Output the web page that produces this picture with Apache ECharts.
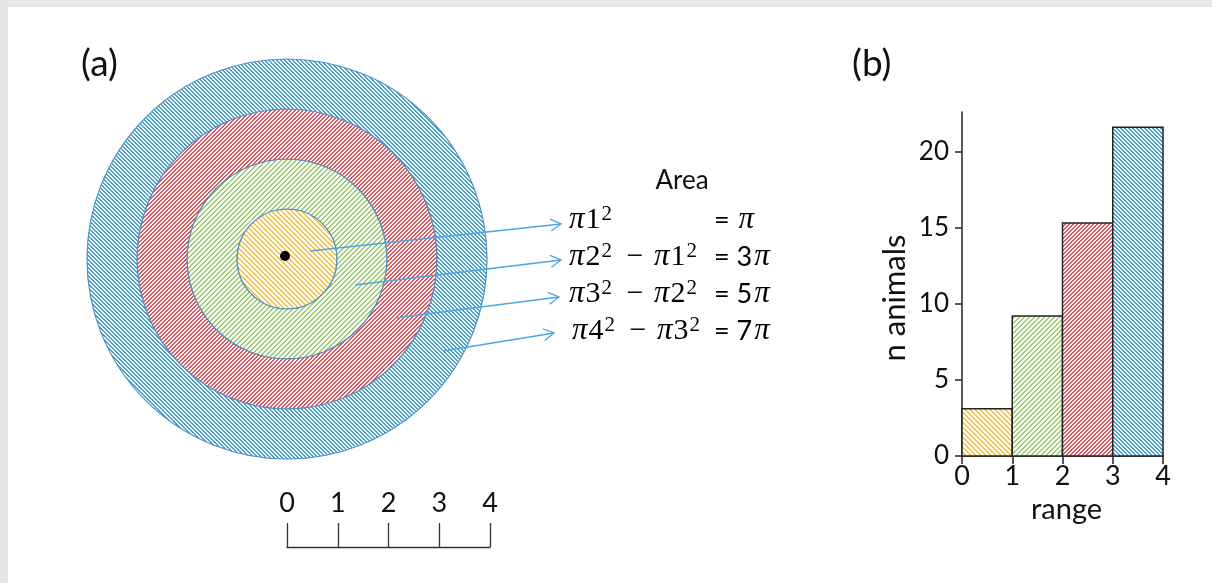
<!DOCTYPE html>
<html><head><meta charset="utf-8">
<script src="https://cdn.jsdelivr.net/npm/echarts@6/dist/echarts.min.js"></script>
<style>html,body{margin:0;padding:0;background:#fff;}#c{width:1212px;height:583px;}</style>
</head><body><div id="c"></div>
<script>
// ---------------- data ----------------
const ringNames = ['0–1', '1–2', '2–3', '3–4'];
const ringSweep = [1, 1, 1, 1];              // every ring is a full circle
const binStart = [0, 1, 2, 3];
const binEnd = [1, 2, 3, 4];
const animalCounts = [3.1, 9.2, 15.3, 21.6];
const countTicks = [0, 5, 10, 15, 20];
const rangeTicks = [0, 1, 2, 3, 4];
const scaleTicks = [0, 1, 2, 3, 4];
const formulaLeft = [
  '{p|π}{n|1}{s|2}',
  '{p|π}{n|2}{s|2}{m|−}{p|π}{n|1}{s|2}',
  '{p|π}{n|3}{s|2}{m|−}{p|π}{n|2}{s|2}',
  '{p|π}{n|4}{s|2}{m|−}{p|π}{n|3}{s|2}'
];
const formulaRight = ['{e|= }{p|π}', '{e|= 3}{p|π}', '{e|= 5}{p|π}', '{e|= 7}{p|π}'];

// ---------------- styles ----------------
const FONT = 'Lato, "Open Sans", sans-serif';
const SERIF = '"Liberation Serif", "DejaVu Serif", serif';
const ringColors = ['#f9c040', '#9ccd6e', '#ee5058', '#45a0dc'];
const ringDirs = ['back', 'fwd', 'fwd', 'back'];
const ringPeriods = [5, 5, 4, 4];

function hatch(hex, period, dir) {
  const c = document.createElement('canvas');
  c.width = period; c.height = period;
  const g = c.getContext('2d');
  const img = g.createImageData(period, period);
  const r = parseInt(hex.slice(1, 3), 16), gg = parseInt(hex.slice(3, 5), 16), b = parseInt(hex.slice(5, 7), 16);
  for (let y = 0; y < period; y++) {
    for (let x = 0; x < period; x++) {
      const k = dir === 'back' ? (((x - y) % period) + period) % period : (x + y) % period;
      const on = k < 2;
      const i = (y * period + x) * 4;
      img.data[i] = on ? r : 255;
      img.data[i + 1] = on ? gg : 255;
      img.data[i + 2] = on ? b : 255;
      img.data[i + 3] = 255;
    }
  }
  g.putImageData(img, 0, 0);
  return { image: c, repeat: 'repeat' };
}
const fills = ringColors.map((c, i) => hatch(c, ringPeriods[i], ringDirs[i]));

const CENTER = [287, 259];
const arrowStarts = [[310, 251], [355, 285], [395, 318], [443, 351]];
const arrowTips = [[561, 224], [561, 260], [559, 297], [554, 333]];
const rowY = [220, 257, 294, 331];

const chart = echarts.init(document.getElementById('c'), null, { renderer: 'canvas' });

const graphics = [
  { type: 'rect', shape: { x: 0, y: 0, width: 1212, height: 7 }, style: { fill: '#e6e7e9' }, silent: true },
  { type: 'rect', shape: { x: 0, y: 0, width: 8, height: 583 }, style: { fill: '#e6e7e9' }, silent: true },
  { type: 'text', x: 81, y: 64, style: { text: '(a)', font: '37px ' + FONT, fill: '#111', verticalAlign: 'middle' } },
  { type: 'text', x: 852, y: 64, style: { text: '(b)', font: '37px ' + FONT, fill: '#111', verticalAlign: 'middle' } },
  { type: 'text', x: 682, y: 181, style: { text: 'Area', font: '26px ' + FONT, fill: '#111', align: 'center', verticalAlign: 'middle' } },
  { type: 'circle', shape: { cx: CENTER[0] - 2, cy: CENTER[1] - 3, r: 5 }, style: { fill: '#000' }, z: 10 }
];
const rich = {
  p: { fontFamily: SERIF, fontStyle: 'italic', fontSize: 31, color: '#111', lineHeight: 32 },
  n: { fontFamily: SERIF, fontSize: 30, color: '#111', lineHeight: 32, padding: [0, 1, 0, 1] },
  s: { fontFamily: SERIF, fontSize: 21, color: '#111', verticalAlign: 'top', lineHeight: 20, padding: [0, 4, 0, 0] },
  m: { fontFamily: SERIF, fontSize: 30, color: '#111', lineHeight: 32, width: 38, align: 'center' },
  e: { fontFamily: FONT, fontSize: 27, color: '#111', lineHeight: 32, padding: [0, 2, 0, 0] }
};
formulaLeft.forEach((t, i) => {
  graphics.push({ type: 'text', x: i === 3 ? 572 : 569, y: rowY[i], style: { text: t, rich, verticalAlign: 'middle', align: 'left' }, z: 5 });
  graphics.push({ type: 'text', x: 714, y: rowY[i], style: { text: formulaRight[i], rich, verticalAlign: 'middle', align: 'left' }, z: 5 });
});
arrowStarts.forEach((s, i) => {
  const t = arrowTips[i];
  const ang = Math.atan2(t[1] - s[1], t[0] - s[0]);
  const L = 12, a = Math.PI / 6;
  const p1 = [t[0] - L * Math.cos(ang - a), t[1] - L * Math.sin(ang - a)];
  const p2 = [t[0] - L * Math.cos(ang + a), t[1] - L * Math.sin(ang + a)];
  graphics.push({ type: 'line', shape: { x1: s[0], y1: s[1], x2: t[0], y2: t[1] }, style: { stroke: '#4aa6e0', lineWidth: 1.3 }, z: 8 });
  graphics.push({ type: 'polyline', shape: { points: [p1, t, p2] }, style: { stroke: '#4aa6e0', lineWidth: 1.3, fill: null }, z: 8 });
});

const option = {
  animation: false,
  backgroundColor: '#ffffff',
  polar: { center: CENTER, radius: 200 },
  radiusAxis: { type: 'category', data: ringNames, show: false, axisLine: { show: false }, axisTick: { show: false }, axisLabel: { show: false } },
  angleAxis: { type: 'value', min: 0, max: 1, show: false, startAngle: 90 },
  grid: [
    { left: 962, top: 112, width: 201, height: 344 },
    { left: 287, top: 520, width: 203, height: 27 }
  ],
  xAxis: [
    {
      gridIndex: 0, type: 'value', min: 0, max: 4, interval: 1,
      axisLine: { show: true, onZero: false, lineStyle: { color: '#222', width: 1.5 } },
      axisTick: { show: true, length: 8, lineStyle: { color: '#222', width: 1.5 }, customValues: rangeTicks },
      axisLabel: { fontFamily: FONT, fontSize: 27, color: '#111', margin: 7, customValues: rangeTicks },
      splitLine: { show: false },
      name: 'range', nameLocation: 'middle', nameGap: 37,
      nameTextStyle: { fontFamily: FONT, fontSize: 29, color: '#111', padding: [0, 0, 0, 8] }
    },
    {
      gridIndex: 1, type: 'value', min: 0, max: 4, interval: 1,
      axisLine: { show: true, onZero: false, lineStyle: { color: '#333', width: 1.3 } },
      axisTick: { show: true, inside: true, length: 24, lineStyle: { color: '#333', width: 1.3 }, customValues: scaleTicks },
      axisLabel: { inside: true, fontFamily: FONT, fontSize: 27, color: '#111', margin: 30, customValues: scaleTicks },
      splitLine: { show: false }
    }
  ],
  yAxis: [
    {
      gridIndex: 0, type: 'value', min: 0, max: 22.6,
      axisLine: { show: true, onZero: false, lineStyle: { color: '#222', width: 1.5 } },
      axisTick: { show: true, length: 7, lineStyle: { color: '#222', width: 1.5 }, customValues: countTicks },
      axisLabel: { fontFamily: FONT, fontSize: 26, color: '#111', margin: 13, customValues: countTicks },
      splitLine: { show: false },
      name: 'n animals', nameLocation: 'middle', nameGap: 52, nameRotate: 90,
      nameTextStyle: { fontFamily: FONT, fontSize: 31, color: '#111', padding: [0, 28, 0, 0] }
    },
    { gridIndex: 1, type: 'value', show: false, min: 0, max: 1 }
  ],
  series: [
    {
      type: 'bar', coordinateSystem: 'polar', barCategoryGap: '0%', silent: true,
      data: ringSweep.map((v, i) => ({ value: v, itemStyle: { color: fills[i], borderColor: '#4f8fc0', borderWidth: 1.2 } }))
    },
    {
      type: 'custom', xAxisIndex: 0, yAxisIndex: 0, silent: true,
      data: animalCounts.map((v, i) => [binStart[i], binEnd[i], v]),
      encode: { x: [0, 1], y: 2 },
      renderItem: function (params, api) {
        const p0 = api.coord([api.value(0), 0]);
        const p1 = api.coord([api.value(1), api.value(2)]);
        return {
          type: 'rect',
          shape: { x: p0[0], y: p1[1], width: p1[0] - p0[0], height: p0[1] - p1[1] },
          style: { fill: fills[params.dataIndex], stroke: '#222', lineWidth: 1.5 }
        };
      }
    }
  ],
  graphic: graphics
};
chart.setOption(option);
</script>
</body></html>
